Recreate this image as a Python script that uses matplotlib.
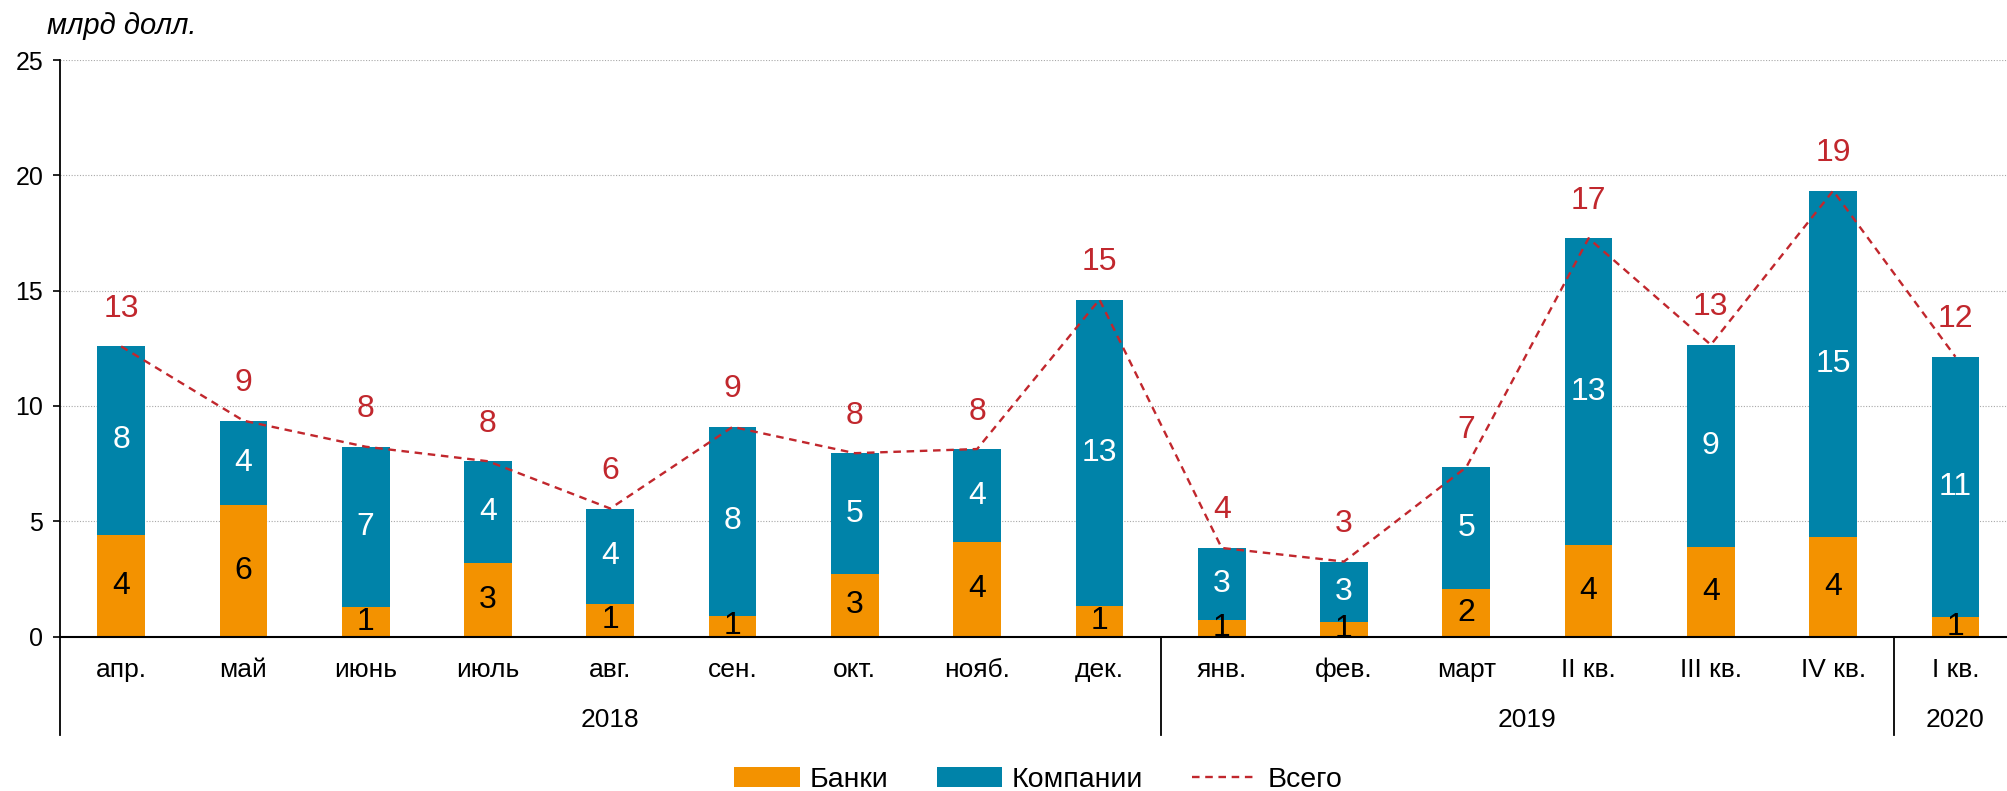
import numpy as np
import matplotlib.pyplot as plt

plt.rcParams['font.family'] = ['Liberation Sans Narrow', 'Liberation Sans', 'DejaVu Sans']

months = ['апр.', 'май', 'июнь', 'июль', 'авг.', 'сен.', 'окт.', 'нояб.', 'дек.',
          'янв.', 'фев.', 'март', 'II кв.', 'III кв.', 'IV кв.', 'I кв.']
years = ['2018', '2019', '2020']
year_spans = [(0, 8), (9, 14), (15, 15)]

banks = [4.42, 5.72, 1.30, 3.18, 1.42, 0.90, 2.69, 4.08, 1.34,
         0.72, 0.64, 2.06, 3.97, 3.90, 4.32, 0.86]
companies = [8.16, 3.64, 6.93, 4.42, 4.13, 8.19, 5.26, 4.05, 13.27,
             3.12, 2.61, 5.28, 13.30, 8.75, 15.01, 11.27]
total = [b + c for b, c in zip(banks, companies)]

orange = '#F39200'
blue = '#0083A9'
red = '#C1272D'

fig = plt.figure(figsize=(20.08, 7.91), dpi=100)
ax = fig.add_axes([60 / 2008, 1 - 636.5 / 791, 1 - 60 / 2008, (636.5 - 60) / 791])

x = np.arange(len(months))
w = 0.39
b1 = ax.bar(x, banks, w, color=orange, label='Банки', zorder=2)
b2 = ax.bar(x, companies, w, bottom=banks, color=blue, label='Компании', zorder=2)
l1, = ax.plot(x, total, color=red, lw=1.7, linestyle=(0, (3.2, 2.4)), label='Всего', zorder=3)

for i in range(len(x)):
    ax.text(x[i], banks[i] / 2, f'{banks[i]:.0f}', ha='center', va='center',
            fontsize=23, color='black', zorder=4)
    ax.text(x[i], banks[i] + companies[i] / 2, f'{companies[i]:.0f}', ha='center',
            va='center', fontsize=23, color='white', zorder=4)
    ax.annotate(f'{total[i]:.0f}', (x[i], total[i]), xytext=(0, 27),
                textcoords='offset points', ha='center', va='center',
                fontsize=23, color=red, zorder=4)

ax.set_xlim(-0.5, 15.43)
ax.set_ylim(0, 25)
ax.set_yticks([0, 5, 10, 15, 20, 25])
ax.yaxis.grid(True, linestyle=(0, (1, 1.5)), color='#a8a8a8', lw=0.8, zorder=0)
ax.tick_params(axis='y', labelsize=18, length=5, width=1.2, pad=7)
ax.set_xticks([])
for s in ['top', 'right', 'left']:
    ax.spines[s].set_visible(False)
ax.spines['bottom'].set_linewidth(1.5)

trans = ax.get_xaxis_transform()
ax.plot([-0.5, -0.5], [-0.171, 1], color='black', lw=1.3, transform=trans, clip_on=False)
for xs in [8.5, 14.5]:
    ax.plot([xs, xs], [-0.171, 0], color='black', lw=1.3, transform=trans, clip_on=False)

for i, m in enumerate(months):
    ax.text(x[i], -0.058, m, transform=trans, ha='center', va='center', fontsize=19)
for yr, (a, b) in zip(years, year_spans):
    ax.text((a + b) / 2, -0.145, yr, transform=trans, ha='center', va='center', fontsize=19)

fig.text(47 / 2008, 1 - 26 / 791, 'млрд долл.', style='italic', fontsize=21,
         ha='left', va='center')

fig.legend(handles=[b1, b2, l1], loc='center', bbox_to_anchor=(0.517, 0.014), ncol=3,
           frameon=False, fontsize=20.5, handlelength=2.3, handletextpad=0.35,
           columnspacing=1.7)

fig.savefig('out.png', dpi=100)
